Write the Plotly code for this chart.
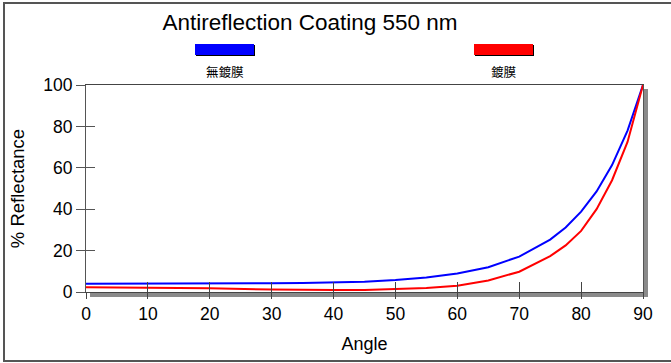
import plotly.graph_objects as go

# ---- data ----
angle = [0, 10, 20, 30, 35, 40, 45, 50, 55, 60, 65, 70, 75, 77.5, 80, 82.5, 85, 87.5, 90]
uncoated = [4.0, 4.0, 4.0, 4.2, 4.4, 4.6, 5.0, 5.8, 7.0, 8.9, 12.0, 17.1, 25.3, 31.2, 38.8, 48.6, 61.3, 78.0, 100]
coated = [2.3, 2.1, 1.8, 1.2, 1.0, 1.0, 1.0, 1.3, 1.9, 3.0, 5.6, 9.8, 17.3, 22.5, 29.5, 40.0, 54.0, 72.5, 100]
series_names = ["無鍍膜", "鍍膜"]
series_colors = ["#0000FF", "#FF0000"]
title_text = "Antireflection Coating 550 nm"
x_title = "Angle"
y_title = "% Reflectance"
x_ticks = [0, 10, 20, 30, 40, 50, 60, 70, 80, 90]
y_ticks = [0, 20, 40, 60, 80, 100]

W, H = 671, 363
L, R, T, B = 86, 643, 85, 292  # plot area in pixels


def px(x):
    return (x - L) / (R - L)


def py(y):
    return (B - y) / (B - T)


fig = go.Figure()
fig.add_trace(go.Scatter(x=angle, y=uncoated, mode="lines", name=series_names[0],
                         line=dict(color=series_colors[0], width=2), showlegend=False))
fig.add_trace(go.Scatter(x=angle, y=coated, mode="lines", name=series_names[1],
                         line=dict(color=series_colors[1], width=2), showlegend=False,
                         xaxis="x2", yaxis="y2"))

font_main = "Liberation Sans, Arial, sans-serif"
axis_common = dict(showgrid=False, zeroline=False)

shapes = []
# outer frame
shapes.append(dict(type="rect", xref="paper", yref="paper",
                   x0=px(4), x1=px(690), y0=py(361), y1=py(3),
                   line=dict(color="#555555", width=2), layer="below"))
# plot shadow (right and bottom)
shapes.append(dict(type="rect", xref="paper", yref="paper",
                   x0=px(644), x1=px(648), y0=py(297), y1=py(89),
                   fillcolor="#8a8a8a", line=dict(width=0), layer="below"))
shapes.append(dict(type="rect", xref="paper", yref="paper",
                   x0=px(90), x1=px(648), y0=py(297), y1=py(293),
                   fillcolor="#8a8a8a", line=dict(width=0), layer="below"))

annotations = []
# legend swatches and labels
legend_pos = [(195, 254, 224.5), (474, 533, 504)]
for (x0, x1, xc), name, col in zip(legend_pos, series_names, series_colors):
    shapes.append(dict(type="rect", xref="paper", yref="paper",
                       x0=px(x0 + 1), x1=px(x1 + 1), y0=py(56), y1=py(45),
                       fillcolor="#000000", line=dict(width=0)))
    shapes.append(dict(type="rect", xref="paper", yref="paper",
                       x0=px(x0), x1=px(x1), y0=py(55), y1=py(44),
                       fillcolor=col, line=dict(width=0)))
    annotations.append(dict(text=name, xref="paper", yref="paper",
                            x=px(xc), y=py(72), xanchor="center", yanchor="middle",
                            showarrow=False,
                            font=dict(family="Noto Sans CJK TC", size=12.5, color="#000000")))

fig.update_layout(
    width=W, height=H,
    margin=dict(l=L, r=W - R, t=T, b=H - B),
    paper_bgcolor="white", plot_bgcolor="white",
    showlegend=False,
    title=dict(text=title_text, x=310 / W, xanchor="center", xref="container",
               y=1 - 22 / H, yanchor="middle", yref="container",
               font=dict(family=font_main, size=22.5, color="#000000")),
    xaxis=dict(range=[0, 90], tickvals=x_ticks, ticks="outside", ticklen=6,
               tickcolor="#444444", tickwidth=1,
               showline=True, linecolor="#444444", linewidth=1, mirror=True,
               tickfont=dict(family=font_main, size=17.5, color="#000000"),
               title=dict(text=x_title, font=dict(family=font_main, size=18, color="#000000"),
                          standoff=14),
               **axis_common),
    yaxis=dict(range=[0, 100], tickvals=y_ticks, ticks="outside", ticklen=9,
               tickcolor="#555555", tickwidth=1,
               showline=True, linecolor="#555555", linewidth=1, mirror=True,
               tickfont=dict(family=font_main, size=17.5, color="#000000"),
               title=dict(text=y_title, font=dict(family=font_main, size=18.5, color="#000000"),
                          standoff=13),
               **axis_common),
    xaxis2=dict(matches="x", overlaying="x", anchor="y2", ticks="inside", ticklen=10,
                tickvals=x_ticks, tickcolor="#444444", showticklabels=False,
                showline=False, **axis_common),
    yaxis2=dict(matches="y", overlaying="y", anchor="x2", side="left", ticks="inside",
                ticklen=9, tickvals=y_ticks, tickcolor="#555555", showticklabels=False,
                showline=False, **axis_common),
    shapes=shapes,
    annotations=annotations,
)

fig.write_html("out.html", config={"displayModeBar": False},
               post_script="document.body.style.margin='0px';document.body.style.overflow='hidden';")
